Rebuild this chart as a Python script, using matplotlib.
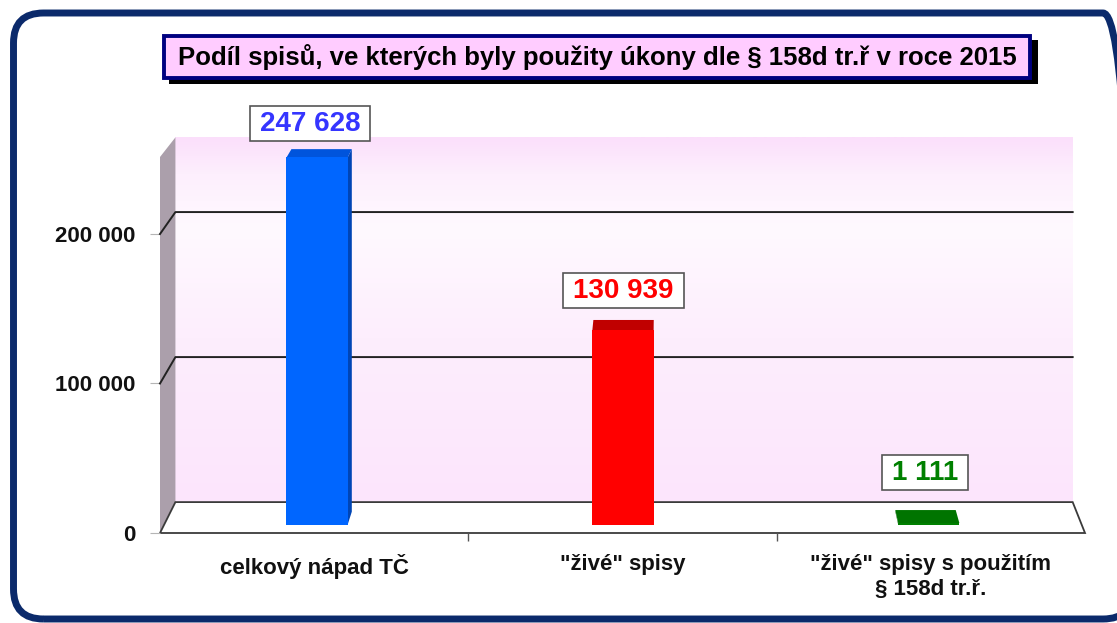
import numpy as np
import matplotlib
matplotlib.use("Agg")
import matplotlib.pyplot as plt
from matplotlib.patches import Polygon, Rectangle, FancyBboxPatch
from matplotlib.transforms import Affine2D, IdentityTransform
from matplotlib.colors import LinearSegmentedColormap

# data
categories = ['celkový nápad TČ', '"živé" spisy', '"živé" spisy s použitím\n§ 158d tr.ř.']
values = [247628, 130939, 1111]
value_labels = ['247 628', '130 939', '1 111']
yticks = [0, 100000, 200000]
title = 'Podíl spisů, ve kterých byly použity úkony dle § 158d tr.ř v roce 2015'

# styles
front_colors = ['#0066ff', '#ff0000', '#008000']
top_colors = ['#0054dc', '#c00000', '#007400']
side_colors = ['#0045b5', '#a80000', '#005a00']
label_colors = ['#3535ff', '#ff0000', '#008000']
label_offsets = [(-3, 28), (0.7, 33.6), (-4, 42.3)]  # points, from bar top

W, H, DPI = 1117, 623, 100
Y_TOP = 251500
BAR_W = 0.2
D0, D1 = 0.27, 0.69          # bar depth (0 = front, 1 = back wall)
VP = np.array([674.0, H + 497.0])  # vanishing point, display px
K = 0.97

plt.rcParams['font.family'] = ['Liberation Sans', 'DejaVu Sans']
plt.rcParams['font.weight'] = 'bold'

fig = plt.figure(figsize=(W / DPI, H / DPI), dpi=DPI)
ax = fig.add_axes([160 / W, (H - 533) / H, 925 / W, 376 / H])
ax.set_xlim(-0.5, 2.5)
ax.set_ylim(0, Y_TOP)
ax.patch.set_visible(False)
for sp in ax.spines.values():
    sp.set_visible(False)


def shrink(d):
    return 1 - d * (1 - K)


def depth(d):
    s = shrink(d)
    return Affine2D().translate(-VP[0], -VP[1]).scale(s).translate(VP[0], VP[1])


def proj(xs, ys, d):
    p = ax.transData.transform(np.column_stack([xs, ys]))
    p = VP + (p - VP) * shrink(d)
    return ax.transData.inverted().transform(p)


x0, x1 = ax.get_xlim()

# back wall with gradient
wall_cmap = LinearSegmentedColormap.from_list(
    'wall', [(0, '#fbdffb'), (0.1, '#fdeffd'), (0.25, '#fff9ff'),
             (0.55, '#fdeefd'), (1, '#fce5fc')])
grad = np.linspace(0, 1, 256).reshape(-1, 1)
ax.imshow(grad, extent=(x0, x1, 0, Y_TOP), aspect='auto', cmap=wall_cmap,
          transform=ax.transData + depth(1),
          zorder=0, clip_on=False, interpolation='bilinear')

# left wall
left = np.vstack([proj([x0, x0], [0, Y_TOP], 0), proj([x0, x0], [Y_TOP, 0], 1)])
ax.add_patch(Polygon(left, closed=True, fc='#ab9fab', ec='none', zorder=1, clip_on=False))

# floor
floor = np.vstack([proj([x0, x1], [0, 0], 0), proj([x1, x0], [0, 0], 1)])
ax.add_patch(Polygon(floor, closed=True, fc='white', ec='#3a3a3a', lw=1.3,
                     zorder=1, clip_on=False))

# gridlines
for yv in yticks[1:]:
    pts = np.vstack([proj([x0], [yv], 0), proj([x0, x1], [yv, yv], 1)])
    ax.plot(pts[:, 0], pts[:, 1], color='#222222', lw=1.4, zorder=2, clip_on=False)

# bars: side + top faces, then front faces
xpos = np.arange(len(values))
for i, (xc, v) in enumerate(zip(xpos, values)):
    cx = ax.transData.transform((xc, 0))[0]
    xe = xc + BAR_W / 2 if cx < VP[0] else xc - BAR_W / 2
    side = np.vstack([proj([xe, xe], [0, v], D0), proj([xe, xe], [v, 0], D1)])
    ax.add_patch(Polygon(side, closed=True, fc=side_colors[i], ec='none',
                         zorder=3, clip_on=False))
    top = np.vstack([proj([xc - BAR_W / 2, xc + BAR_W / 2], [v, v], D0),
                     proj([xc + BAR_W / 2, xc - BAR_W / 2], [v, v], D1)])
    ax.add_patch(Polygon(top, closed=True, fc=top_colors[i], ec='none',
                         zorder=3, clip_on=False))

ax.bar(xpos, values, width=BAR_W, color=front_colors,
       transform=ax.transData + depth(D0), zorder=4, clip_on=False)
ax.set_xlim(x0, x1)
ax.set_ylim(0, Y_TOP)

# value labels
label_texts = []
for xc, v, lbl, col, off in zip(xpos, values, value_labels, label_colors, label_offsets):
    t = ax.annotate(lbl, xy=(xc, v), xytext=off, textcoords='offset points',
                    ha='center', va='center', fontsize=20, fontweight='bold', color=col,
                    zorder=7, annotation_clip=False)
    label_texts.append(t)

# axes ticks
ax.set_yticks(yticks)
ax.set_yticklabels([f'{t:,}'.replace(',', ' ') for t in yticks])
ax.tick_params(axis='y', length=7, width=0.8, color='#b5b5b5', pad=11,
               labelsize=16, labelcolor='#111111')
ax.set_xticks(xpos)
ax.set_xticklabels(categories, linespacing=1.25)
ax.tick_params(axis='x', which='major', length=0, pad=15, labelsize=16,
               labelcolor='#111111')
ax.set_xticks([0.5, 1.5], minor=True)
ax.tick_params(axis='x', which='minor', length=6, width=1, color='#555555')

# boxes round value labels
fig.canvas.draw()
renderer = fig.canvas.get_renderer()
for t in label_texts:
    bb = t.get_window_extent(renderer)
    ax.add_patch(Rectangle((bb.x0 - 10, bb.y0 - 4.5), bb.width + 20, bb.height + 9,
                           fc='white', ec='#555555', lw=1.2,
                           transform=IdentityTransform(), zorder=6, clip_on=False))


# title box with shadow
def fx(px):
    return px / W


def fy(py):
    return (H - py) / H


fig.add_artist(Rectangle((fx(169), fy(84)), fx(869), 44 / H, fc='black', ec='none',
                         transform=fig.transFigure, zorder=1))
fig.add_artist(Rectangle((fx(164), fy(78)), fx(866), 42 / H, fc='#ffccff', ec='#000080',
                         lw=2.8, transform=fig.transFigure, zorder=2))
fig.text(fx(597), fy(57.5), title, ha='center', va='center', fontsize=18.5,
         fontweight='bold', color='black', zorder=3)

# rounded outer frame
fig.add_artist(FancyBboxPatch((13.5, H - 619), 1133 - 13.5, 619 - 13,
                              boxstyle='round,pad=0,rounding_size=30',
                              fc='none', ec='#0b2a6b', lw=5,
                              transform=IdentityTransform(), zorder=10))

fig.savefig('out.png', dpi=DPI)
